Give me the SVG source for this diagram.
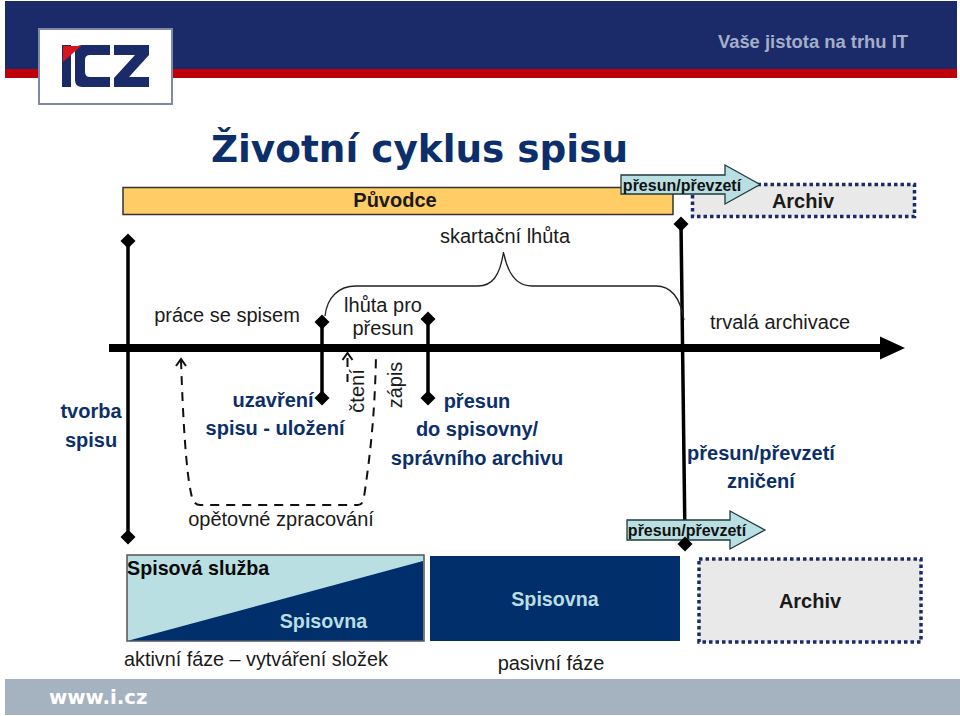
<svg xmlns="http://www.w3.org/2000/svg" width="960" height="716" viewBox="0 0 960 716">
<style>
text{font-family:"Liberation Sans",Arial,sans-serif;font-size:20px;fill:#1a1a1a}
.m{text-anchor:middle}
.b{font-weight:bold}
.n{font-weight:bold;fill:#0c2f6b}
.t{font-size:16px;font-weight:bold;fill:#111}
.ln{stroke:#000;stroke-width:3.500;fill:none}
.th{stroke:#222;stroke-width:1.300;fill:none}
.da{stroke:#111;stroke-width:2;stroke-dasharray:9 7;fill:none}
.ar{fill:#b9dfe2;stroke:#1f3a3d;stroke-width:1.300}
.dot{fill:#e9e9e9;stroke:#1c2b66;stroke-width:3.500;stroke-dasharray:3.500 3}
</style>
<defs><path id="d" d="M0-7.500L7.500 0L0 7.500L-7.500 0Z" fill="#000"/></defs>
<g id="header">
<rect x="5" y="1" width="952" height="68" fill="#1b2a68"/>
<rect x="5" y="69" width="952" height="9" fill="#c00008"/>
<text x="908" y="47.500" text-anchor="end" class="b" style="font-size:18.400px;fill:#a3afca">Vaše jistota na trhu IT</text>
</g>
<g id="logo">
<rect x="39" y="29" width="133" height="75" fill="#fff" stroke="#8088aa" stroke-width="2"/>
<rect x="62" y="45" width="9" height="42" fill="#1b2a68"/>
<path d="M82 45H110V55H90Q85 55 85 60V72Q85 77 90 77H110V87H82Q75 87 75 80V52Q75 45 82 45Z" fill="#1b2a68"/>
<path d="M114 45H149V55L129 77H149V87H114V78L135 55H114Z" fill="#1b2a68"/>
<path d="M63 46H81L63 62Z" fill="#d8141c"/>
</g>
<text id="title" x="419.500" y="162" class="m b" style="font-family:'DejaVu Sans',sans-serif;font-size:37.400px;fill:#0c2f6b">Životní cyklus spisu</text>
<g id="puvodce">
<rect x="123" y="187.500" width="550" height="27" fill="#ffcc66" stroke="#333" stroke-width="1.500"/>
<text x="395" y="207" class="m b">Původce</text>
</g>
<g id="archiv-top">
<rect x="692.500" y="184.500" width="222" height="32" class="dot"/>
<text x="803" y="208" class="m b">Archiv</text>
</g>
<g id="arrow-top">
<path d="M621 175H725V165L760 184.500L725 204V194H621Z" class="ar"/>
<text x="682" y="191" class="m t">přesun/převzetí</text>
</g>
<g id="connectors">
<path d="M109 348H882" stroke="#000" stroke-width="8" fill="none"/>
<path d="M880 336.500L905 348L880 359.500Z" fill="#000"/>
<path d="M128 241V537" class="ln"/>
<use href="#d" x="128" y="241"/>
<use href="#d" x="128" y="537"/>
<path d="M322 322V398" class="ln"/>
<use href="#d" x="322" y="322"/>
<use href="#d" x="322" y="398"/>
<path d="M428 319V398" class="ln"/>
<use href="#d" x="428" y="319"/>
<use href="#d" x="428" y="398"/>
<path d="M681 224L685 540" class="ln"/>
<use href="#d" x="681" y="224"/>
<path d="M325 316C327 298 338 286 356 286H478C492 286 500 276 503.500 252C508 276 518 286 532 286H656C670 286 680 296 684 320" class="th"/>
<path d="M181 360C183 420 186 470 191 493Q193 505 200 505H358Q363 505 364 497C371 450 375 410 376 355" class="da"/>
<path d="M176 366L181 359L186 366" fill="none" stroke="#111" stroke-width="2"/>
<path d="M347.500 358V382" class="da"/>
<path d="M342.500 360L347.500 353L352.500 360" fill="none" stroke="#111" stroke-width="2"/>
</g>
<g id="labels-top">
<text x="227" y="322" class="m">práce se spisem</text>
<text x="383" y="312" class="m">lhůta pro</text>
<text x="383" y="335" class="m">přesun</text>
<text x="505" y="243" class="m">skartační lhůta</text>
<text x="780" y="329" class="m">trvalá archivace</text>
<text transform="translate(364 391) rotate(-90)" class="m">čtení</text>
<text transform="translate(402 385) rotate(-90)" class="m">zápis</text>
<text x="281" y="526" class="m">opětovné zpracování</text>
</g>
<g id="labels-blue">
<text x="91" y="418" class="m n">tvorba</text>
<text x="91" y="447" class="m n">spisu</text>
<text x="273" y="407" class="m n">uzavření</text>
<text x="275" y="435" class="m n">spisu - uložení</text>
<text x="477" y="408" class="m n">přesun</text>
<text x="477" y="436" class="m n">do spisovny/</text>
<text x="477" y="465" class="m n">správního archivu</text>
<text x="761" y="460" class="m n">přesun/převzetí</text>
<text x="761" y="488" class="m n">zničení</text>
</g>
<g id="spisova-sluzba">
<rect x="127" y="555" width="297" height="86" fill="#b9dfe2" stroke="#555" stroke-width="1.500"/>
<path d="M129 640.500L423 561V640.500Z" fill="#002f6c"/>
<text x="127" y="575" class="b" style="fill:#0a0a0a;font-size:19.700px">Spisová služba</text>
<text x="323.500" y="628" class="m b" style="fill:#b9dfe2;font-size:19.700px">Spisovna</text>
</g>
<g id="spisovna">
<rect x="430" y="556" width="250" height="85" fill="#002f6c"/>
<text x="555" y="606" class="m b" style="fill:#b9dfe2;font-size:19.700px">Spisovna</text>
</g>
<g id="archiv-bottom">
<rect x="699" y="559" width="222" height="83" class="dot"/>
<text x="810" y="608" class="m b">Archiv</text>
</g>
<g id="arrow-bottom">
<path d="M627 520H730V511L765 530L730 549V540H627Z" class="ar"/>
<text x="687" y="536" class="m t">přesun/převzetí</text>
</g>
<use id="marker-bottom" href="#d" x="685" y="544"/>
<text id="faze-aktivni" x="124" y="666" style="font-size:19.800px">aktivní fáze – vytváření složek</text>
<text id="faze-pasivni" x="551" y="670" class="m">pasivní fáze</text>
<g id="footer">
<rect x="5" y="679" width="955" height="36" fill="#a5b2c0"/>
<text x="49" y="704" class="b" style="font-family:'DejaVu Sans',sans-serif;font-size:19.800px;fill:#fff">www.i.cz</text>
</g>
</svg>
